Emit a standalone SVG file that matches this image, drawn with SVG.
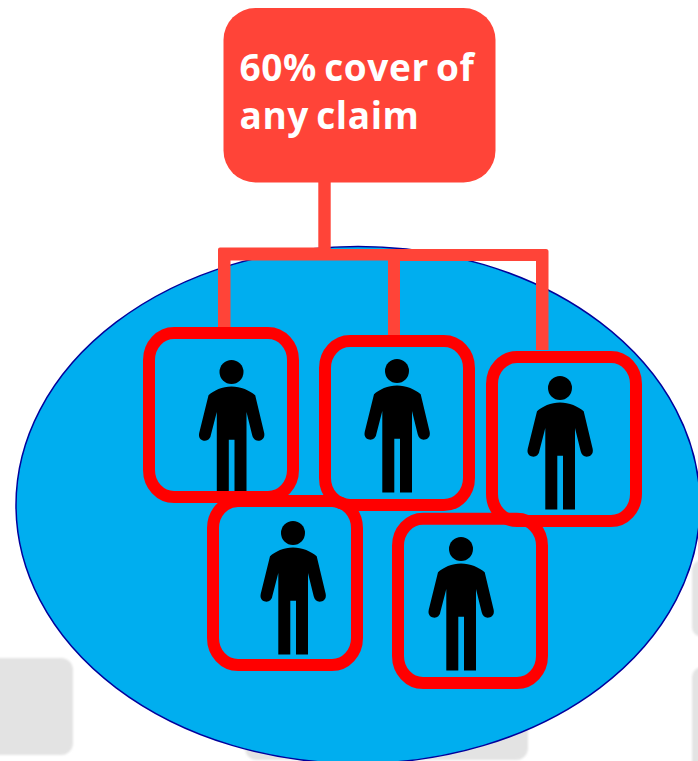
<svg xmlns="http://www.w3.org/2000/svg" width="698" height="761" viewBox="0 0 698 761">
<style>
.bg{fill:#e3e3e3;filter:url(#soft)}
.frame{fill:none;stroke:#ff0000;stroke-width:12}
.conn{fill:#ff4438}
.label{font-family:"Open Sans","Noto Sans",sans-serif;font-weight:700;font-size:37px;fill:#ffffff;letter-spacing:.6px;word-spacing:-3px}
</style>
<defs>
<filter id="soft" x="-10%" y="-10%" width="120%" height="120%"><feGaussianBlur stdDeviation="1.2"/></filter>
<g id="person">
<circle cx="0" cy="0" r="12"/>
<path d="M0 14.5C-9 14.5-18 18.500-23 23.300L-32.300 61C-33.500 66.500-29.500 68.700-26.500 68.700C-23.500 68.700-21.200 66.500-20.700 63.300L-14.700 40V121.500H-2.700V67.700H3V121.500H15V40L20.700 63.300C21.500 66.500 23.700 68.700 26.700 68.700C30 68.700 33.700 66.200 32.700 61L23.700 23.300C18.500 18.500 9 14.500 0 14.500Z"/>
</g>
</defs>
<g id="background">
<rect class="bg" x="-30" y="658" width="103" height="97" rx="12"/>
<rect class="bg" x="245" y="660" width="283" height="100" rx="12"/>
<rect class="bg" x="692" y="560" width="40" height="77" rx="10"/>
<rect class="bg" x="692" y="667" width="40" height="110" rx="10"/>
</g>
<ellipse id="pool" cx="358" cy="505" rx="342" ry="258.500" fill="#00aeef" stroke="#00009c" stroke-width="1.500"/>
<g id="connectors">
<rect class="conn" x="318.300" y="180" width="12.400" height="80"/>
<path class="conn" d="M220 247.500H324V249H546Q548.500 249 548.500 251.500V350H536V261H400V335H388V260.500H230.500V327H218V249.500Q218 247.500 220 247.500Z"/>
</g>
<g id="claim-box">
<rect x="223.500" y="8" width="272" height="174.500" rx="32" fill="#ff4438"/>
<text class="label" x="239.500" y="81">60% cover of</text>
<text class="label" x="239.500" y="129">any claim</text>
</g>
<g id="member-1">
<use href="#person" x="231.500" y="372"/>
<rect class="frame" x="149" y="333" width="144" height="164" rx="25" ry="27"/>
</g>
<g id="member-2">
<use href="#person" x="397" y="371"/>
<rect class="frame" x="325" y="341" width="144" height="164" rx="25" ry="27"/>
</g>
<g id="member-3">
<use href="#person" x="560" y="388"/>
<rect class="frame" x="492" y="357" width="144" height="164" rx="25" ry="27"/>
</g>
<g id="member-4">
<use href="#person" x="293" y="533"/>
<rect class="frame" x="213" y="501" width="144" height="164" rx="25" ry="27"/>
</g>
<g id="member-5">
<use href="#person" x="461" y="549"/>
<rect class="frame" x="398" y="518.700" width="144" height="164.300" rx="25" ry="27"/>
</g>
</svg>
